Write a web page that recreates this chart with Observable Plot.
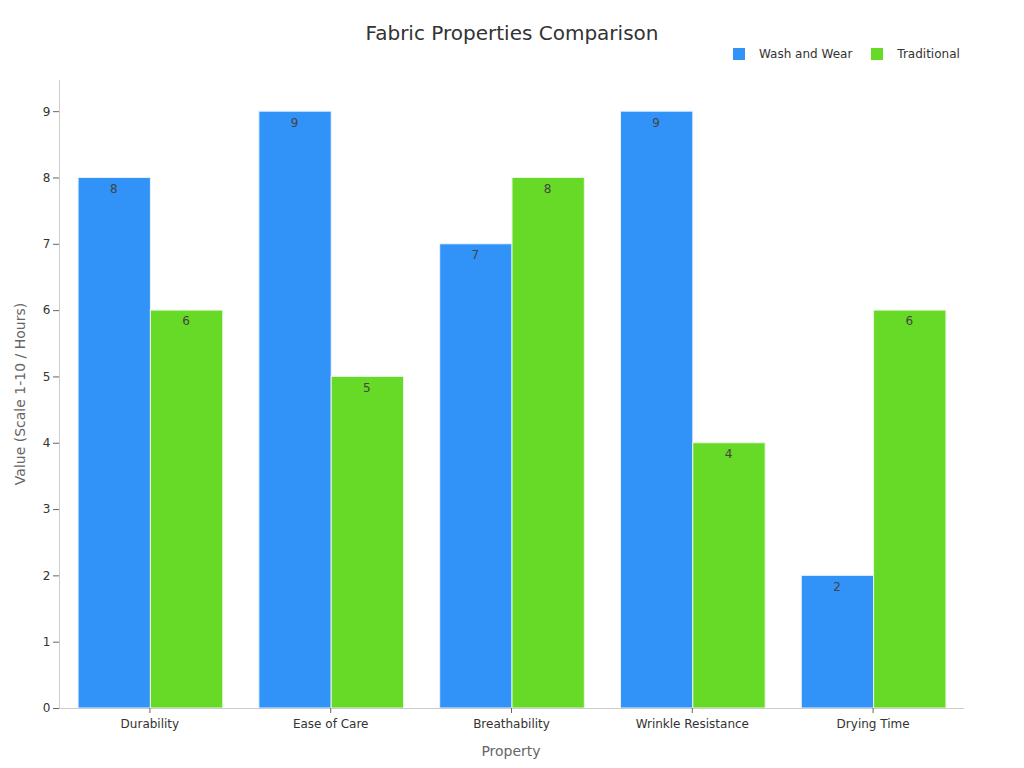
<!DOCTYPE html>
<html>
<head>
<meta charset="utf-8">
<script src="https://cdn.jsdelivr.net/npm/d3@7"></script>
<script src="https://cdn.jsdelivr.net/npm/@observablehq/plot@0.6"></script>
<style>
  html, body { margin: 0; padding: 0; background: #fff; }
  body { font-family: "DejaVu Sans", sans-serif; }
  #wrap { position: relative; width: 1024px; height: 768px; }
  #title { position: absolute; left: 0; width: 1024px; top: 20px; text-align: center; font-size: 20px; color: #333; line-height: 26px; }
  #legend { position: absolute; top: 46px; left: 733px; font-size: 12px; color: #333; display: flex; align-items: center; line-height: 16px; }
  .sw { width: 12px; height: 12px; display: inline-block; margin-right: 14px; }
  .item { display: flex; align-items: center; margin-right: 19px; }
  #chart { position: absolute; left: 0; top: 0; }
</style>
</head>
<body>
<div id="wrap">
  <div id="chart"></div>
  <div id="title">Fabric Properties Comparison</div>
  <div id="legend"></div>
</div>
<script>
const categories = ["Durability", "Ease of Care", "Breathability", "Wrinkle Resistance", "Drying Time"];
const seriesNames = ["Wash and Wear", "Traditional"];
const washAndWear = [8, 9, 7, 9, 2];
const traditional = [6, 5, 8, 4, 6];
const yTicks = [0, 1, 2, 3, 4, 5, 6, 7, 8, 9];
const colors = ["#3192f8", "#66da26"];

const data = categories.map((c, i) => ({cat: c, ww: washAndWear[i], tr: traditional[i]}));

const width = 1024, height = 768;
const marginLeft = 59, marginRight = 61;
const step = (width - marginLeft - marginRight) / categories.length;
const half = step * 0.8 / 2;

const chart = Plot.plot({
  width, height,
  marginTop: 80, marginBottom: 60, marginLeft, marginRight,
  style: {fontFamily: "DejaVu Sans, sans-serif", fontSize: "12px", color: "#333", background: "#fff"},
  x: {domain: categories, paddingInner: 0.2, paddingOuter: 0.1, round: false, label: null},
  y: {domain: [0, 9.47], label: null},
  marks: [
    Plot.barY(data, {x: "cat", y: "ww", fill: colors[0], stroke: "#e8f2fe", strokeWidth: 1, insetRight: half, dx: 1}),
    Plot.barY(data, {x: "cat", y: "tr", fill: colors[1], stroke: "#e8f7df", strokeWidth: 1, insetLeft: half, dx: 1}),
    Plot.text(data, {x: "cat", y: "ww", text: d => String(d.ww), dx: -half / 2, dy: 11, fill: "#444", fontSize: 12}),
    Plot.text(data, {x: "cat", y: "tr", text: d => String(d.tr), dx: half / 2, dy: 11, fill: "#444", fontSize: 12}),
    Plot.frame({anchor: "left", stroke: "#ccc"}),
    Plot.frame({anchor: "bottom", stroke: "#ccc"}),
    Plot.axisY({ticks: yTicks, tickSize: 6, tickPadding: 3, stroke: "#666", label: null, fill: "#333", fontSize: 12}),
    Plot.axisX({tickSize: 5, tickPadding: 6, stroke: "#666", label: null, fill: "#333", fontSize: 12}),
  ]
});

const svg = d3.select(chart);
svg.append("text")
  .attr("x", marginLeft + (width - marginLeft - marginRight) / 2)
  .attr("y", 756)
  .attr("text-anchor", "middle")
  .attr("fill", "#666")
  .attr("font-size", 14)
  .text("Property");
svg.append("text")
  .attr("transform", `translate(25, ${80 + (708 - 80) / 2}) rotate(-90)`)
  .attr("text-anchor", "middle")
  .attr("fill", "#666")
  .attr("font-size", 14)
  .text("Value (Scale 1-10 / Hours)");

document.getElementById("chart").appendChild(chart);

const legend = d3.select("#legend");
seriesNames.forEach((s, i) => {
  const it = legend.append("div").attr("class", "item");
  it.append("span").attr("class", "sw").style("background", colors[i]);
  it.append("span").text(s);
});
</script>
</body>
</html>
